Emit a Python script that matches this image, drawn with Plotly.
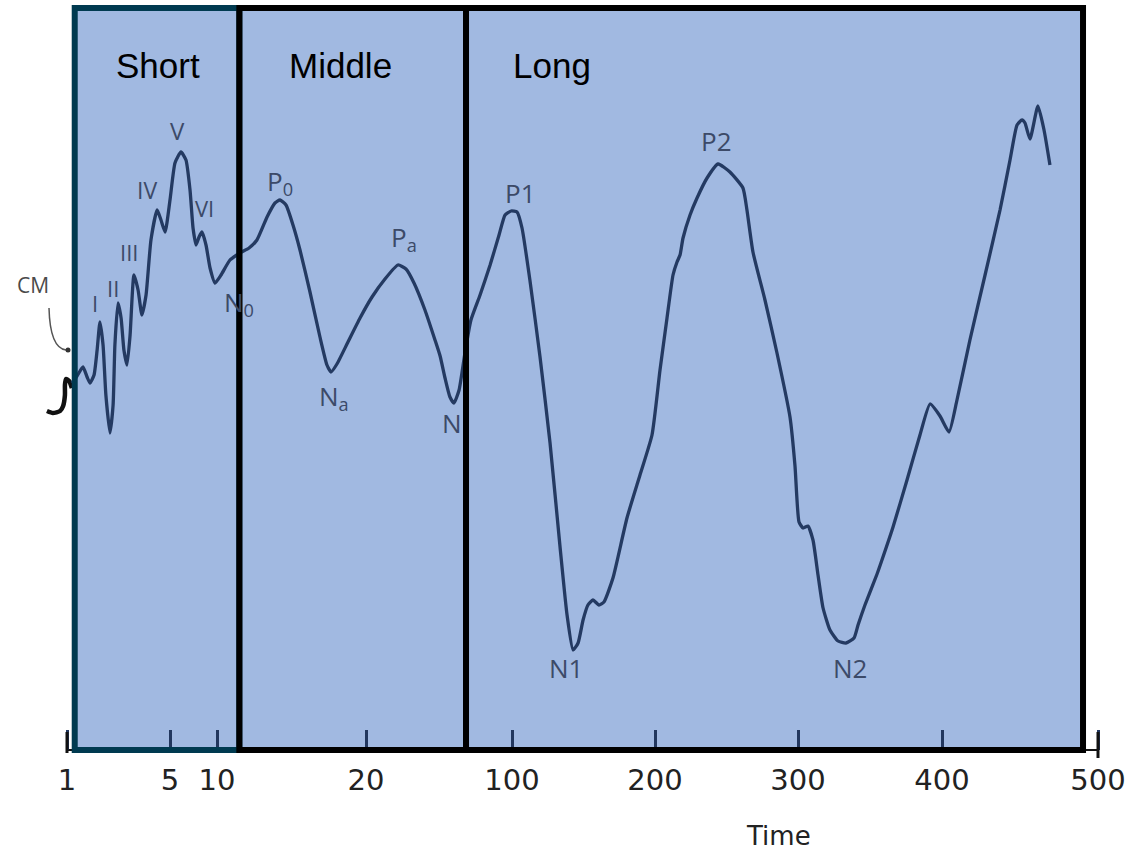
import numpy as np
import plotly.graph_objects as go

# ---------------- data ----------------
# Time axis (ms) tick labels and their positions on the (non-linear) drawn axis
TICK_TIMES = [1, 5, 10, 20, 100, 200, 300, 400, 500]
TICK_LABELS = ["1", "5", "10", "20", "100", "200", "300", "400", "500"]
TICK_POS = [67, 170, 217, 366, 512, 655, 798, 942, 1098]

# Regions (ms)
REGION_NAMES = ["Short", "Middle", "Long"]
REGION_START = [1.3, 11.5, 74.8]
REGION_END = [11.5, 74.8, 490.4]
REGION_LABEL_T = [4.53, 18.3, 128.0]

# Evoked-potential waveform: time (ms) and amplitude (arbitrary units)
WAVE_T = [1.19, 1.39, 1.62, 1.78, 1.89, 2.05, 2.17, 2.28, 2.40, 2.51, 2.67, 2.79, 2.86, 2.98,
          3.10, 3.21, 3.33, 3.45, 3.60, 3.76, 3.91, 4.07, 4.26, 4.50, 4.65, 4.81, 5.00, 5.53,
          6.17, 6.70, 7.13, 7.45, 7.77, 8.09, 8.40, 8.83, 9.26, 9.79, 10.27, 10.87, 11.54,
          12.15, 12.68, 13.36, 13.89, 14.23, 14.63, 15.10, 15.57, 16.24, 16.91, 17.38, 17.65,
          18.05, 18.79, 19.60, 23.3, 30.4, 37.5, 41.9, 46.3, 52.3, 57.8, 60.6, 63.3, 66.0,
          68.2, 71.0, 74.3, 77.5, 82.5, 88.0, 92.9, 96.2, 99.5, 103.5, 107.0, 112.6, 119.6,
          126.6, 133.6, 138.5, 142.7, 146.2, 149.7, 153.1, 156.6, 160.8, 164.3, 170.6, 180.4,
          189.5, 197.9, 203.5, 208.4, 212.6, 215.4, 217.5, 219.6, 224.5, 229.4, 236.4, 244.1,
          252.4, 261.5, 264.3, 268.5, 276.9, 285.3, 294.4, 297.9, 300.7, 303.5, 306.9, 310.4,
          313.9, 317.4, 322.2, 327.8, 333.3, 338.9, 341.7, 346.5, 354.9, 358.3, 366.0, 375.7,
          384.7, 391.7, 398.6, 404.5, 409.6, 417.9, 427.6, 437.2, 443.6, 448.1, 451.3, 453.2,
          456.4, 461.5, 465.4, 469.2]
WAVE_A = [3.67, 3.74, 3.83, 3.73, 3.67, 3.75, 4.00, 4.28, 4.05, 3.55, 3.17, 3.45, 4.05, 4.47,
          4.32, 4.00, 3.85, 4.15, 4.75, 4.60, 4.35, 4.55, 5.10, 5.40, 5.30, 5.18, 5.50, 5.87,
          5.98, 5.90, 5.60, 5.22, 5.05, 5.13, 5.18, 5.05, 4.82, 4.67, 4.75, 4.90, 4.97,
          5.02, 5.10, 5.33, 5.47, 5.50, 5.45, 5.25, 5.00, 4.58, 4.13, 3.85, 3.78,
          3.86, 4.08, 4.32, 4.53, 4.71, 4.85, 4.81, 4.67, 4.40, 4.10, 3.94, 3.72, 3.53,
          3.47, 3.60, 3.98, 4.30, 4.55, 4.85, 5.15, 5.35, 5.39, 5.38, 5.22, 4.69, 3.93,
          3.07, 2.03, 1.35, 1.00, 1.07, 1.30, 1.45, 1.50, 1.45, 1.48, 1.72, 2.32,
          2.75, 3.15, 3.80, 4.32, 4.75, 4.88, 4.95, 5.12, 5.35, 5.52, 5.72, 5.86,
          5.78, 5.62, 5.40, 4.98, 4.50, 3.97, 3.33, 2.84, 2.28, 2.22, 2.24, 2.10,
          1.75, 1.42, 1.20, 1.09, 1.07, 1.12, 1.25, 1.45, 1.76, 1.90, 2.23, 2.70,
          3.15, 3.46, 3.34, 3.18, 3.50, 4.10, 4.75, 5.40, 5.90, 6.25, 6.30, 6.27,
          6.11, 6.44, 6.20, 5.85]

# Hand-drawn stimulus artefact at the very start
HOOK_T = [0.22, 0.45, 0.73, 0.85, 0.92, 0.92, 0.96, 1.08, 1.19]
HOOK_A = [3.39, 3.37, 3.39, 3.44, 3.55, 3.65, 3.71, 3.69, 3.62]

# Peak labels
PEAK_TEXT = ["I", "II", "III", "IV", "V", "VI", "N<sub>0</sub>", "P<sub>0</sub>",
             "N<sub>a</sub>", "P<sub>a</sub>", "N", "P1", "P2", "N1", "N2"]
PEAK_T = [2.09, 2.79, 3.41, 4.11, 5.85, 8.62, 11.48, 14.23, 17.85, 40.8, 67.1,
          105.6, 242.7, 137.8, 336.1]
PEAK_A = [4.47, 4.62, 4.98, 5.60, 6.20, 5.42, 4.47, 5.68, 3.53, 5.12, 3.27,
          5.57, 6.09, 0.82, 0.82]
PEAK_SIZE = [22, 22, 22, 23, 24, 22, 26, 26, 26, 26, 26, 26, 26, 26, 26]


def to_pos(t):
    """Map time (ms) onto the drawn, piecewise time axis (linear extrapolation below 1 ms)."""
    t = np.asarray(t, dtype=float)
    pos = np.interp(t, TICK_TIMES, TICK_POS)
    slope0 = (TICK_POS[1] - TICK_POS[0]) / (TICK_TIMES[1] - TICK_TIMES[0])
    low = t < TICK_TIMES[0]
    pos = np.where(low, TICK_POS[0] + (t - TICK_TIMES[0]) * slope0, pos)
    return pos


TOP = 7.42     # top of region boxes (amplitude units)
FILL = "#A1B9E1"
WAVE_COLOR = "#243a62"
LABEL_COLOR = "#3c4a68"

fig = go.Figure()

fig.add_trace(go.Scatter(x=to_pos(HOOK_T), y=HOOK_A, mode="lines",
                         line=dict(color="#111111", width=4.5, shape="spline", smoothing=0.6),
                         hoverinfo="skip"))
fig.add_trace(go.Scatter(x=to_pos(WAVE_T), y=WAVE_A, mode="lines",
                         line=dict(color=WAVE_COLOR, width=3.3, shape="spline", smoothing=0.5),
                         hoverinfo="skip"))

shapes = []
# region fills (below the waveform)
for s, e in zip(REGION_START, REGION_END):
    shapes.append(dict(type="rect", xref="x", yref="y", x0=float(to_pos(s)), x1=float(to_pos(e)),
                       y0=0, y1=TOP, fillcolor=FILL, line=dict(width=0), layer="below"))
# axis baseline and end caps
shapes.append(dict(type="line", xref="x", yref="y", x0=float(to_pos(TICK_TIMES[0])),
                   x1=float(to_pos(TICK_TIMES[-1])), y0=0, y1=0,
                   line=dict(color="#111111", width=2), layer="below"))
shapes.append(dict(type="line", xref="x", yref="y", x0=float(to_pos(TICK_TIMES[0])),
                   x1=float(to_pos(TICK_TIMES[0])), y0=-0.03, y1=0.18,
                   line=dict(color="#111111", width=3)))
shapes.append(dict(type="line", xref="x", yref="y", x0=float(to_pos(TICK_TIMES[-1])),
                   x1=float(to_pos(TICK_TIMES[-1])), y0=-0.08, y1=0.18,
                   line=dict(color="#111111", width=3)))
# region borders (above the waveform)
border_colors = ["#003A50", "#000000", "#000000"]
for (s, e), c in zip(zip(REGION_START, REGION_END), border_colors):
    shapes.append(dict(type="rect", xref="x", yref="y", x0=float(to_pos(s)), x1=float(to_pos(e)),
                       y0=0, y1=TOP, fillcolor="rgba(0,0,0,0)", line=dict(color=c, width=6),
                       layer="above"))
# CM pointer
shapes.append(dict(type="path", xref="x", yref="y",
                   path="M 49,4.42 Q 50,4.02 66,4.0", line=dict(color="#555555", width=1.5)))
shapes.append(dict(type="circle", xref="x", yref="y", x0=65.5, x1=70.5, y0=3.975, y1=4.025,
                   fillcolor="#333333", line=dict(width=0)))

annotations = []
for name, t in zip(REGION_NAMES, REGION_LABEL_T):
    annotations.append(dict(x=float(to_pos(t)), y=6.85, xref="x", yref="y", text=name,
                            showarrow=False, font=dict(family="Liberation Sans, Arial", size=35,
                                                       color="#000000")))
for txt, t, a, sz in zip(PEAK_TEXT, PEAK_T, PEAK_A, PEAK_SIZE):
    annotations.append(dict(x=float(to_pos(t)), y=a, xref="x", yref="y", text=txt,
                            showarrow=False, font=dict(family="Open Sans", size=sz,
                                                       color=LABEL_COLOR)))
annotations.append(dict(x=33, y=4.65, xref="x", yref="y", text="CM", showarrow=False,
                        font=dict(family="Open Sans", size=21, color="#4a4a4a")))
annotations.append(dict(x=778, y=-0.86, xref="x", yref="y", text="Time", showarrow=False,
                        font=dict(family="DejaVu Sans", size=26, color="#222222")))

fig.update_layout(
    width=1135, height=856, template="none",
    margin=dict(l=0, r=0, t=0, b=0),
    paper_bgcolor="white", plot_bgcolor="white", showlegend=False,
    xaxis=dict(range=[0, 1135], anchor="free", position=(856 - 750) / 856,
               tickmode="array", tickvals=[float(v) for v in to_pos(TICK_TIMES)],
               ticktext=TICK_LABELS, ticks="inside", ticklen=20, tickwidth=2.5,
               tickcolor="#22375e", showgrid=False, zeroline=False, showline=False,
               tickfont=dict(family="DejaVu Sans", size=29, color="#222222"),
               ticklabelstandoff=10, automargin=False, fixedrange=True),
    yaxis=dict(range=[(750 - 856) / 100, 7.5], visible=False, showgrid=False,
               zeroline=False, automargin=False, fixedrange=True),
    shapes=shapes, annotations=annotations,
)

fig.write_html("out.html")
